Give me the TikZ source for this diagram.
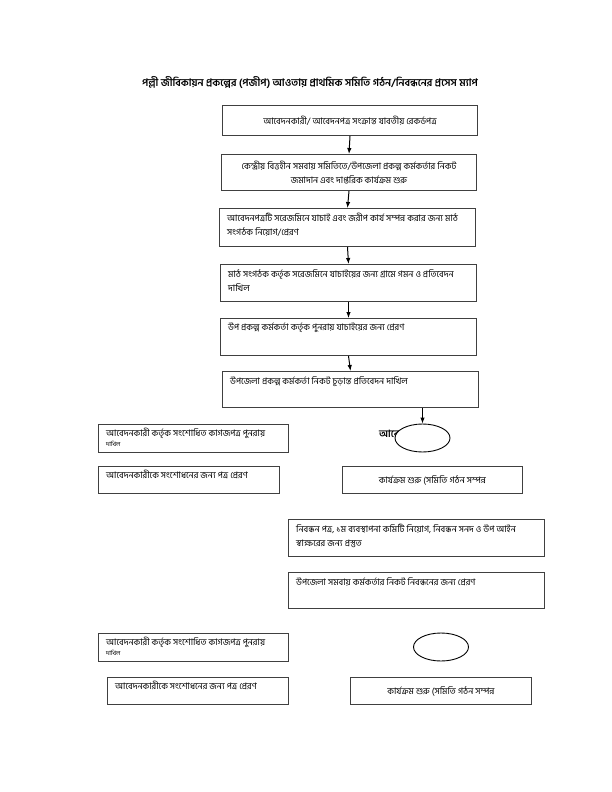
\documentclass[tikz,border=0pt]{standalone}
\usepackage{fontspec}
\setmainfont[Script=Bengali]{Hind Siliguri}
\usetikzlibrary{arrows.meta,shapes.geometric}
\tikzset{
  box/.style={draw=black!75, line width=1pt, anchor=north west, inner sep=0pt, align=center, font=\fontsize{9}{14}\selectfont},
  txt/.style={anchor=north west, inner sep=0pt, align=left, font=\fontsize{9}{14}\selectfont},
  oval/.style={ellipse, draw=black, line width=0.9pt, fill=white, minimum width=55bp, minimum height=28bp, inner sep=0pt},
  arr/.style={-{Latex[length=6pt,width=4.5pt]}, line width=1pt}
}
\begin{document}
\begin{tikzpicture}[x=1bp,y=-1bp]
\useasboundingbox[fill=white] (0,0) rectangle (612,792);
\node[font=\bfseries\fontsize{10.4}{12}\selectfont] (title) at (310,82) {পল্লী জীবিকায়ন প্রকল্পের (পজীপ) আওতায় প্রাথমিক সমিতি গঠন/নিবন্ধনের প্রসেস ম্যাপ};
% main column
\node[box, minimum width=255bp, minimum height=30bp] (b1) at (222,105) {আবেদনকারী/ আবেদনপত্র সংক্রান্ত যাবতীয় রেকর্ডপত্র};
\node[box, minimum width=255bp, minimum height=36bp] (b2) at (221,154) {কেন্দ্রীয় বিত্তহীন সমবায় সমিতিতে/উপজেলা প্রকল্প কর্মকর্তার নিকট\\জমাদান এবং দাপ্তরিক কার্যক্রম শুরু};
\node[box, minimum width=256bp, minimum height=38bp] (b3) at (219,208) {};
\node[txt] (t3) at ([shift={(8,5)}]b3.north west) {আবেদনপত্রটি সরেজমিনে যাচাই এবং জরীপ কার্য সম্পন্ন করার জন্য মাঠ\\সংগঠক নিয়োগ/প্রেরণ};
\node[box, minimum width=256bp, minimum height=37bp] (b4) at (220,264) {};
\node[txt] (t4) at ([shift={(8,5)}]b4.north west) {মাঠ সংগঠক কর্তৃক সরেজমিনে যাচাইয়ের জন্য গ্রামে গমন ও প্রতিবেদন\\দাখিল};
\node[box, minimum width=256bp, minimum height=37bp] (b5) at (220,318) {};
\node[txt] (t5) at ([shift={(8,5)}]b5.north west) {উপ প্রকল্প কর্মকর্তা কর্তৃক পুনরায় যাচাইয়ের জন্য প্রেরণ};
\node[box, minimum width=256bp, minimum height=36bp] (b6) at (222,371) {};
\node[txt] (t6) at ([shift={(8,5)}]b6.north west) {উপজেলা প্রকল্প কর্মকর্তা নিকট চূড়ান্ত প্রতিবেদন দাখিল};
\draw[arr] (b1.south) -- (b2.north);
\draw[arr] (b2.south) -- (b3.north);
\draw[arr] (b3.south) -- (b4.north);
\draw[arr] (b4.south) -- (b5.north);
\draw[arr] (b5.south) -- (b6.north);
% first decision row
\node[anchor=west, inner sep=0pt, font=\bfseries\fontsize{10}{12}\selectfont] (ae) at (379,434) {আবেদন};
\node[oval] (o1) at (422.5,438) {};
\draw[arr] (b6.south -| o1.north) -- (o1.north);
\node[box, minimum width=190bp, minimum height=28bp] (l1) at (98,424) {};
\node[txt] (tl1) at ([shift={(8,4)}]l1.north west) {আবেদনকারী কর্তৃক সংশোধিত কাগজপত্র পুনরায়\\[-4pt]{\fontsize{6}{7}\selectfont দাখিল}};
\node[box, minimum width=181bp, minimum height=27bp] (l2) at (98,466) {};
\node[txt] (tl2) at ([shift={(8,4)}]l2.north west) {আবেদনকারীকে সংশোধনের জন্য পত্র প্রেরণ};
\node[box, minimum width=180bp, minimum height=27bp] (r1) at (342,466) {কার্যক্রম শুরু (সমিতি গঠন সম্পন্ন};
% registration
\node[box, minimum width=256bp, minimum height=37bp] (b7) at (288,519) {};
\node[txt] (t7) at ([shift={(8,5)}]b7.north west) {নিবন্ধন পত্র, ১ম ব্যবস্থাপনা কমিটি নিয়োগ, নিবন্ধন সনদ ও উপ আইন\\স্বাক্ষরের জন্য প্রস্তুত};
\node[box, minimum width=256bp, minimum height=36bp] (b8) at (288,572) {};
\node[txt] (t8) at ([shift={(8,5)}]b8.north west) {উপজেলা সমবায় কর্মকর্তার নিকট নিবন্ধনের জন্য প্রেরণ};
% second decision row
\node[oval] (o2) at (441,647) {};
\node[box, minimum width=190bp, minimum height=28bp] (l3) at (98,633) {};
\node[txt] (tl3) at ([shift={(8,4)}]l3.north west) {আবেদনকারী কর্তৃক সংশোধিত কাগজপত্র পুনরায়\\[-4pt]{\fontsize{6}{7}\selectfont দাখিল}};
\node[box, minimum width=181bp, minimum height=27bp] (l4) at (107,677) {};
\node[txt] (tl4) at ([shift={(8,4)}]l4.north west) {আবেদনকারীকে সংশোধনের জন্য পত্র প্রেরণ};
\node[box, minimum width=181bp, minimum height=27bp] (r2) at (350,677) {কার্যক্রম শুরু (সমিতি গঠন সম্পন্ন};
\end{tikzpicture}
\end{document}
